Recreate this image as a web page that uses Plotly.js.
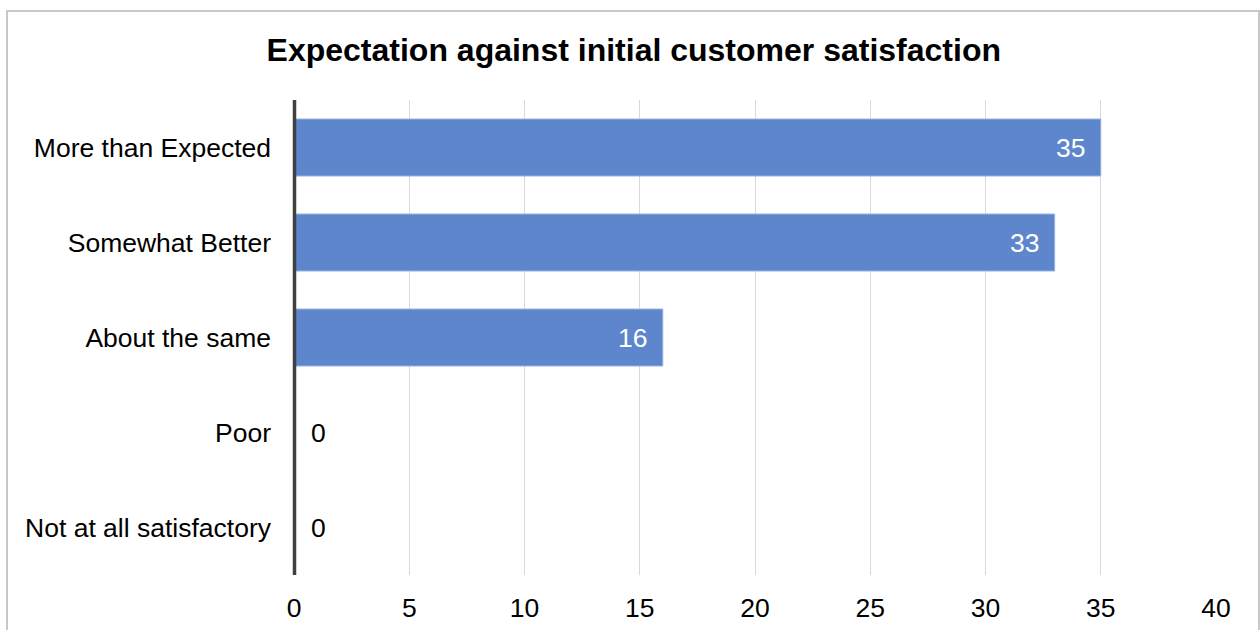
<!DOCTYPE html>
<html>
<head>
<meta charset="utf-8">
<script src="https://cdn.plot.ly/plotly-3.0.1.min.js"></script>
<style>
  html, body { margin: 0; padding: 0; background: #ffffff; }
  #chart { width: 1260px; height: 630px; }
</style>
</head>
<body>
<div id="chart"></div>
<script>
const categories = ["More than Expected", "Somewhat Better", "About the same", "Poor", "Not at all satisfactory"];
const values = [35, 33, 16, 0, 0];
const xTickValues = [0, 5, 10, 15, 20, 25, 30, 35, 40];
const chartTitle = "Expectation against initial customer satisfaction";

const FONT = "'Liberation Sans', Arial, Helvetica, sans-serif";
const TXT = 26.5;

const trace = {
  type: "bar",
  orientation: "h",
  y: categories,
  x: values,
  marker: { color: "rgb(94,134,204)", line: { color: "rgb(150,178,226)", width: 1 } },
  hoverinfo: "x+y",
  cliponaxis: false
};

const annotations = categories.map((c, i) => ({
  x: values[i],
  y: c,
  xref: "x",
  yref: "y",
  text: String(values[i]),
  showarrow: false,
  xanchor: values[i] > 0 ? "right" : "left",
  xshift: values[i] > 0 ? -14 : 15,
  font: { family: FONT, size: TXT, color: values[i] > 0 ? "#ffffff" : "#000000" }
}));

const layout = {
  width: 1260,
  height: 630,
  paper_bgcolor: "#ffffff",
  plot_bgcolor: "#ffffff",
  margin: { l: 294, r: 44, t: 100, b: 55, pad: 0 },
  showlegend: false,
  bargap: 0.4,
  title: {
    text: "<b>" + chartTitle + "</b>",
    font: { family: FONT, size: 32, color: "#000000" },
    x: 0.503,
    xanchor: "center",
    xref: "container",
    y: 1 - 50 / 630,
    yanchor: "middle",
    yref: "container"
  },
  xaxis: {
    range: [0, 40],
    tickvals: xTickValues,
    ticktext: xTickValues.map(String),
    showgrid: true,
    gridcolor: "#d9d9d9",
    gridwidth: 1,
    zeroline: false,
    showline: false,
    ticks: "",
    ticklabelstandoff: 14,
    tickfont: { family: FONT, size: TXT, color: "#000000" },
    fixedrange: true
  },
  yaxis: {
    type: "category",
    autorange: "reversed",
    showgrid: false,
    zeroline: false,
    showline: false,
    ticks: "",
    ticklabelstandoff: 22,
    tickfont: { family: FONT, size: TXT, color: "#000000" },
    fixedrange: true
  },
  annotations: annotations,
  shapes: [{
    type: "rect",
    xref: "paper",
    yref: "paper",
    x0: (7 - 294) / 922,
    x1: (1259 - 294) / 922,
    y0: -0.3,
    y1: (575 - 11) / 475,
    line: { color: "#c8c8c8", width: 2 },
    fillcolor: "rgba(0,0,0,0)",
    layer: "below"
  }, {
    type: "line",
    xref: "paper",
    yref: "paper",
    x0: 0.5 / 922,
    x1: 0.5 / 922,
    y0: 0,
    y1: 1,
    line: { color: "#404040", width: 3.5 },
    layer: "above"
  }]
};

Plotly.newPlot("chart", [trace], layout, { displayModeBar: false, staticPlot: true });
</script>
</body>
</html>
